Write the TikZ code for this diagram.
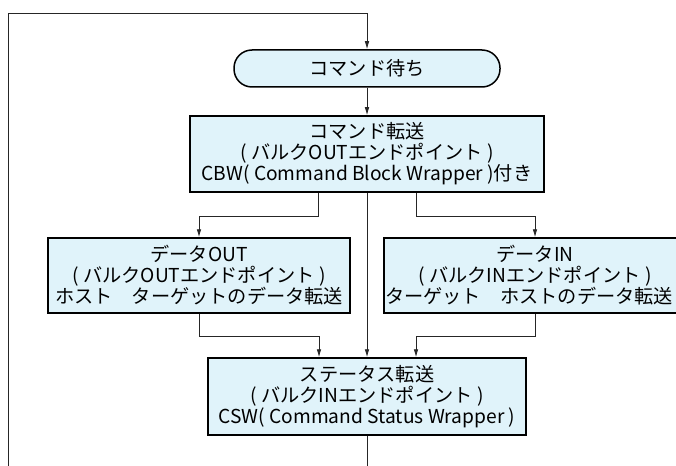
\documentclass[tikz,border=0pt]{standalone}
\usepackage{fontspec}
\setmainfont{Noto Sans CJK JP}
\usetikzlibrary{arrows.meta}
\definecolor{boxfill}{HTML}{E0F3FA}
\tikzset{
  box/.style={draw=black, line width=1.5pt, fill=boxfill, inner sep=0pt, align=center,
    font=\fontsize{19.2pt}{21pt}\selectfont, text=black},
  conn/.style={line width=0.8pt, draw=black!85},
  arr/.style={conn, -{Latex[length=8pt,width=4.5pt]}},
}
\begin{document}
\begin{tikzpicture}[x=1pt,y=-1pt]
\useasboundingbox (0,0) rectangle (676,465);
\clip (0,0) rectangle (676,465);
\node[box, rounded corners=18pt, minimum width=266pt, minimum height=37pt] (wait) at (367,68.5) {コマンド待ち};
\node[box, minimum width=354pt, minimum height=76pt] (cmd) at (367,154)
  {コマンド転送\\( バルクOUTエンドポイント )\\CBW( Command Block Wrapper )付き};
\node[box, minimum width=302pt, minimum height=75pt] (dout) at (199,275.5)
  {データOUT\\( バルクOUTエンドポイント )\\ホスト　ターゲットのデータ転送};
\node[box, minimum width=302pt, minimum height=75pt] (din) at (535,275.5)
  {データIN\\( バルクINエンドポイント )\\\hspace*{-12pt}ターゲット　ホストのデータ転送};
\node[box, minimum width=318pt, minimum height=77pt] (stat) at (367,396.5)
  {ステータス転送\\( バルクINエンドポイント )\\CSW( Command Status Wrapper )};
\coordinate (lb) at (8,466);
\coordinate (lt) at (8,13);
\coordinate (bot) at (367,466);
\draw[arr] (lb) -- (lt) -| (wait.north);
\draw[arr] (wait.south) -- (cmd.north);
\draw[arr] (cmd.south) -- (stat.north);
\draw[arr] ([xshift=-49pt]cmd.south) -- ++(0,24) -| (dout.north);
\draw[arr] ([xshift=49pt]cmd.south) -- ++(0,24) -| (din.north);
\draw[arr] (dout.south) -- ++(0,23) -| ([xshift=-48pt]stat.north);
\draw[arr] (din.south) -- ++(0,23) -| ([xshift=49pt]stat.north);
\draw[conn] (stat.south) -- (bot);
\end{tikzpicture}
\end{document}
